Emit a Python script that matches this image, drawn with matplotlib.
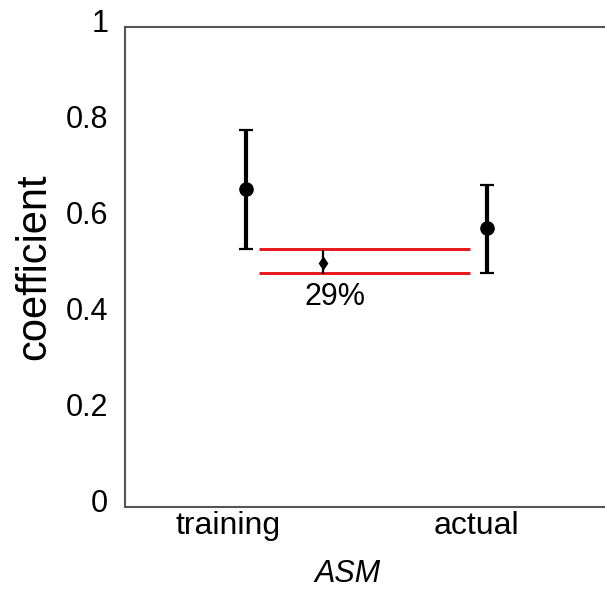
import matplotlib
matplotlib.use("Agg")
import matplotlib.pyplot as plt
from matplotlib.transforms import ScaledTranslation

plt.rcParams['font.family'] = ['Liberation Sans', 'DejaVu Sans']

# Data
categories = ["training", "actual"]
cat_pos = [1.0, 2.0]
means = [0.663, 0.581]
lower = [0.537, 0.488]
upper = [0.785, 0.671]

diff_x = 1.32
diff_mean = 0.508
diff_lo = 0.485
diff_hi = 0.535
diff_label = "29%"

band_levels = [0.537, 0.488]
band_x = [1.055, 1.93]

yticks = [0, 0.2, 0.4, 0.6, 0.8, 1]
ytick_labels = ["0", "0.2", "0.4", "0.6", "0.8", "1"]

fig = plt.figure(figsize=(6.05, 5.95), dpi=100)
ax = fig.add_axes([125 / 605, 88 / 595, 483 / 605, 480 / 595])

# Horizontal red reference lines
for lvl in band_levels:
    ax.plot(band_x, [lvl, lvl], color="#e8141a", lw=2.1, solid_capstyle="butt", zorder=2)

# Main estimates with confidence intervals
yerr = [[m - l for m, l in zip(means, lower)], [u - m for m, u in zip(means, upper)]]
ax.errorbar(cat_pos, means, yerr=yerr, fmt="o", color="black", ms=9.5,
            elinewidth=3, capsize=5, capthick=1.6, zorder=3)

# Difference estimate
ax.errorbar([diff_x], [diff_mean], yerr=[[diff_mean - diff_lo], [diff_hi - diff_mean]],
            fmt="d", color="black", ms=6, elinewidth=1.6, capsize=0, zorder=3)
ax.text(diff_x + 0.048, 0.437, diff_label, ha="center", va="center", fontsize=22)

ax.set_xlim(0.5, 2.5)
ax.set_ylim(0, 1)

ax.set_yticks(yticks)
ax.set_yticklabels(ytick_labels, fontsize=22)
ax.set_xticks(cat_pos)
ax.set_xticklabels(categories, fontsize=23)
ax.tick_params(axis="both", length=0)
ax.tick_params(axis="y", pad=12)
ax.tick_params(axis="x", pad=3)

# Fine placement of tick labels
for lab in ax.get_yticklabels():
    lab.set_transform(lab.get_transform() + ScaledTranslation(0, 7 / 100, fig.dpi_scale_trans))
x_shift = [-18, -11]
for lab, dx in zip(ax.get_xticklabels(), x_shift):
    lab.set_transform(lab.get_transform() + ScaledTranslation(dx / 100, 0, fig.dpi_scale_trans))

ax.set_ylabel("coefficient", fontsize=30, labelpad=8)
ax.set_xlabel("ASM", fontsize=22, style="italic", labelpad=13, x=0.4617)

for side in ["left", "top", "bottom", "right"]:
    ax.spines[side].set_color("#555555")
    ax.spines[side].set_linewidth(1.5)

fig.savefig("out.png", dpi=100)
